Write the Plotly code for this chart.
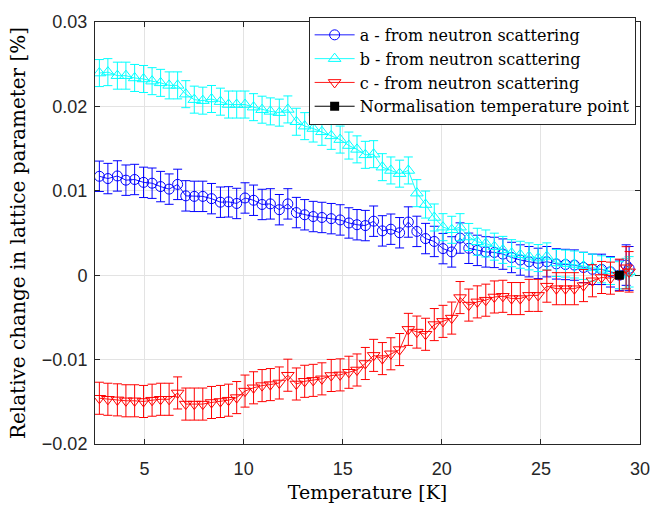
import plotly.graph_objects as go

# Temperatures [K]
temperature = [2.72, 3.15, 3.63, 4.06, 4.50, 4.95, 5.38, 5.81, 6.24, 6.67,
               7.08, 7.51, 7.94, 8.38, 8.83, 9.24, 9.65, 10.07, 10.50, 10.93,
               11.35, 11.80, 12.23, 12.66, 13.08, 13.51, 13.95, 14.42, 14.87, 15.31,
               15.72, 16.14, 16.56, 17.00, 17.43, 17.87, 18.31, 18.74, 19.18, 19.62,
               20.06, 20.50, 20.92, 21.36, 21.79, 22.22, 22.65, 23.08, 23.52, 23.96,
               24.40, 24.86, 25.30, 25.78, 26.24, 26.69, 27.15, 27.60, 28.06, 28.51,
               28.96, 29.30, 29.45]

# Relative change of lattice parameter a
a_change = [0.01172, 0.01145, 0.01176, 0.01126, 0.01134, 0.01100, 0.01090, 0.01050, 0.01020, 0.01076,
            0.00940, 0.00934, 0.00934, 0.00907, 0.00865, 0.00869, 0.00850, 0.00915, 0.00888, 0.00838,
            0.00845, 0.00776, 0.00845, 0.00742, 0.00716, 0.00695, 0.00684, 0.00670, 0.00655, 0.00619,
            0.00598, 0.00588, 0.00640, 0.00525, 0.00545, 0.00503, 0.00630, 0.00519, 0.00434, 0.00400,
            0.00315, 0.00276, 0.00440, 0.00319, 0.00294, 0.00276, 0.00270, 0.00250, 0.00210, 0.00180,
            0.00160, 0.00140, 0.00160, 0.00134, 0.00127, 0.00120, 0.00092, 0.00070, 0.00069, 0.00040,
            0.00000, 0.00120, 0.00080]
a_err = [0.0018, 0.0018, 0.0018, 0.0018, 0.0018, 0.0018, 0.0018, 0.0018, 0.0018, 0.0018,
         0.0018, 0.0018, 0.0018, 0.0018, 0.0018, 0.0018, 0.0018, 0.0018, 0.0018, 0.0018,
         0.0018, 0.0018, 0.0018, 0.0018, 0.0018, 0.0018, 0.0018, 0.0018, 0.0018, 0.0018,
         0.0018, 0.0018, 0.0018, 0.0018, 0.0018, 0.0018, 0.0018, 0.0018, 0.0018, 0.0018,
         0.0018, 0.0018, 0.0018, 0.0018, 0.0018, 0.0018, 0.0018, 0.0018, 0.0018, 0.0018,
         0.0018, 0.0018, 0.0018, 0.0018, 0.0018, 0.0018, 0.0018, 0.0018, 0.0018, 0.0018,
         0.0018, 0.0024, 0.0026]

# Relative change of lattice parameter b
b_change = [0.02395, 0.02406, 0.02364, 0.02364, 0.02337, 0.02325, 0.02299, 0.02279, 0.02249, 0.02249,
            0.02145, 0.02080, 0.02068, 0.02088, 0.02056, 0.02022, 0.02022, 0.02022, 0.01991, 0.01961,
            0.01941, 0.01926, 0.01964, 0.01818, 0.01766, 0.01738, 0.01699, 0.01651, 0.01607, 0.01536,
            0.01491, 0.01426, 0.01434, 0.01280, 0.01241, 0.01203, 0.01241, 0.00972, 0.00837, 0.00684,
            0.00569, 0.00538, 0.00569, 0.00453, 0.00396, 0.00376, 0.00338, 0.00300, 0.00261, 0.00242,
            0.00223, 0.00203, 0.00223, 0.00145, 0.00138, 0.00127, 0.00110, 0.00090, 0.00070, 0.00050,
            0.00000, 0.00020, 0.00040]
b_err = [0.0016, 0.0016, 0.0016, 0.0016, 0.0016, 0.0016, 0.0016, 0.0016, 0.0016, 0.0016,
         0.0016, 0.0016, 0.0016, 0.0016, 0.0016, 0.0016, 0.0016, 0.0016, 0.0016, 0.0016,
         0.0016, 0.0016, 0.0016, 0.0016, 0.0016, 0.0016, 0.0016, 0.0016, 0.0016, 0.0016,
         0.0016, 0.0016, 0.0016, 0.0016, 0.0016, 0.0016, 0.0016, 0.0016, 0.0016, 0.0016,
         0.0016, 0.0016, 0.0016, 0.0016, 0.0016, 0.0016, 0.0016, 0.0016, 0.0016, 0.0016,
         0.0016, 0.0016, 0.0016, 0.0016, 0.0016, 0.0016, 0.0016, 0.0016, 0.0016, 0.0016,
         0.0016, 0.0018, 0.0018]

# Relative change of lattice parameter c
c_change = [-0.01458, -0.01470, -0.01477, -0.01488, -0.01488, -0.01496, -0.01481, -0.01470, -0.01470, -0.01395,
            -0.01527, -0.01527, -0.01527, -0.01508, -0.01496, -0.01481, -0.01450, -0.01373, -0.01334, -0.01308,
            -0.01296, -0.01277, -0.01185, -0.01289, -0.01257, -0.01246, -0.01228, -0.01188, -0.01181, -0.01150,
            -0.01123, -0.01046, -0.00950, -0.00988, -0.00931, -0.00881, -0.00642, -0.00674, -0.00700, -0.00585,
            -0.00547, -0.00508, -0.00265, -0.00354, -0.00316, -0.00296, -0.00258, -0.00250, -0.00277, -0.00277,
            -0.00239, -0.00239, -0.00130, -0.00160, -0.00160, -0.00160, -0.00123, -0.00066, -0.00027, -0.00035,
            0.00000, 0.00088, 0.00040]
c_err = [0.0019, 0.0019, 0.0019, 0.0019, 0.0019, 0.0019, 0.0019, 0.0019, 0.0019, 0.0019,
         0.0019, 0.0019, 0.0019, 0.0019, 0.0019, 0.0019, 0.0019, 0.0019, 0.0019, 0.0019,
         0.0019, 0.0019, 0.0019, 0.0019, 0.0019, 0.0019, 0.0019, 0.0019, 0.0019, 0.0019,
         0.0019, 0.0019, 0.0019, 0.0019, 0.0019, 0.0019, 0.0019, 0.0019, 0.0019, 0.0019,
         0.0019, 0.0019, 0.0019, 0.0019, 0.0019, 0.0019, 0.0019, 0.0019, 0.0019, 0.0019,
         0.0019, 0.0019, 0.0019, 0.0019, 0.0019, 0.0019, 0.0019, 0.0019, 0.0019, 0.0019,
         0.0019, 0.0025, 0.0024]

# Normalisation point
norm_temperature = [28.96]
norm_change = [0.0]

x_ticks = [5, 10, 15, 20, 25, 30]
y_ticks = [-0.02, -0.01, 0, 0.01, 0.02, 0.03]
y_tick_labels = ["\u22120.02", "\u22120.01", "0", "0.01", "0.02", "0.03"]

SERIF = "DejaVu Serif, Liberation Serif, serif"
SANS = "Liberation Sans, Arial, sans-serif"
AXIS_COLOR = "#262626"

fig = go.Figure()


def add_series(x, y, err, color, symbol, size, name):
    fig.add_trace(go.Scatter(
        x=x, y=y, name=name, mode="lines+markers",
        line=dict(color=color, width=0.9),
        marker=dict(symbol=symbol, size=size, color=color,
                    line=dict(color=color, width=1)),
        error_y=dict(type="data", array=err, visible=True, color=color,
                     thickness=1, width=4.5),
    ))


add_series(temperature, a_change, a_err, "#0000ff", "circle-open", 10, "a - from neutron scattering")
add_series(temperature, b_change, b_err, "#00ffff", "triangle-up-open", 11, "b - from neutron scattering")
add_series(temperature, c_change, c_err, "#ff0000", "triangle-down-open", 11, "c - from neutron scattering")

fig.add_trace(go.Scatter(
    x=norm_temperature, y=norm_change, name="Normalisation temperature point",
    mode="lines+markers",
    line=dict(color="black", width=1),
    marker=dict(symbol="square", size=9, color="black"),
))

axis_common = dict(
    showgrid=True, gridcolor="#e3e3e3", gridwidth=1,
    showline=True, linecolor=AXIS_COLOR, linewidth=1, mirror="ticks",
    ticks="inside", ticklen=5, tickcolor=AXIS_COLOR, tickwidth=1,
    tickfont=dict(family=SANS, size=18, color=AXIS_COLOR),
    zeroline=False,
)

fig.update_layout(
    width=662, height=512,
    margin=dict(l=95, r=12, t=15, b=65),
    paper_bgcolor="white", plot_bgcolor="white",
    xaxis=dict(range=[2.5, 30], tickvals=x_ticks, ticklabelstandoff=8,
               title=dict(text="Temperature [K]", font=dict(family=SERIF, size=19, color="black"),
                          standoff=8),
               **axis_common),
    yaxis=dict(range=[-0.02, 0.03], tickvals=y_ticks, ticktext=y_tick_labels,
               ticklabelstandoff=3,
               title=dict(text="Relative change in lattice parameter [%]",
                          font=dict(family=SERIF, size=20, color="black"), standoff=10),
               **axis_common),
    legend=dict(x=0.992, y=1.012, xanchor="right", yanchor="top",
                bgcolor="white", bordercolor=AXIS_COLOR, borderwidth=1,
                font=dict(family=SERIF, size=16, color="black"),
                itemwidth=40, tracegroupgap=0),
    showlegend=True,
)

fig.write_html("out.html")
